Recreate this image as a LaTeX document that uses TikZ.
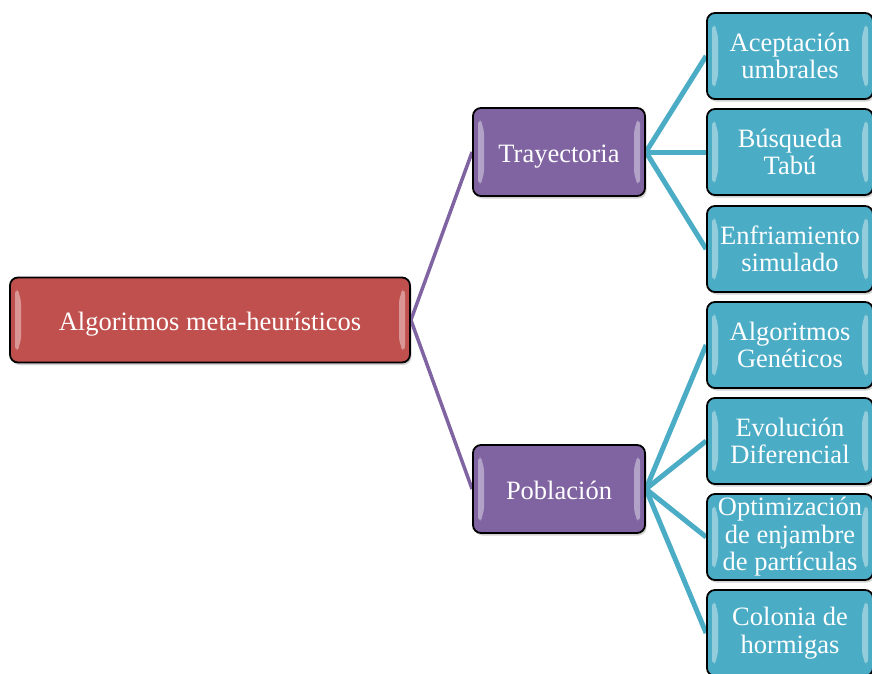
\documentclass[tikz,border=0pt]{standalone}
\usepackage{fontspec}
\setmainfont{Liberation Serif}
\usetikzlibrary{shadows}
\pgfdeclarelayer{background}
\pgfsetlayers{background,main}
\definecolor{rootred}{HTML}{C0504D}
\definecolor{midpurple}{HTML}{8064A2}
\definecolor{leafteal}{HTML}{4BACC6}
\tikzset{
  box/.style={draw=black, line width=1.8pt, rounded corners=8pt, inner sep=0pt,
    align=center, text=white, font=\fontsize{26.5}{27.5}\selectfont,
    drop shadow={shadow xshift=1.5pt, shadow yshift=-2.5pt, opacity=0.35},
    path picture={
      \fill[white, opacity=0.4]
        ([xshift=5pt,yshift=-9pt]path picture bounding box.north west) --
        ([xshift=11pt,yshift=-18pt]path picture bounding box.north west) --
        ([xshift=11pt,yshift=18pt]path picture bounding box.south west) --
        ([xshift=5pt,yshift=9pt]path picture bounding box.south west) -- cycle;
      \fill[white, opacity=0.4]
        ([xshift=-5pt,yshift=-9pt]path picture bounding box.north east) --
        ([xshift=-11pt,yshift=-18pt]path picture bounding box.north east) --
        ([xshift=-11pt,yshift=18pt]path picture bounding box.south east) --
        ([xshift=-5pt,yshift=9pt]path picture bounding box.south east) -- cycle;
    }},
  oneline/.style={text height=21pt, text depth=0pt},
  rootbox/.style={box, oneline, fill=rootred, minimum width=400pt, minimum height=85pt},
  midbox/.style={box, oneline, fill=midpurple, minimum width=172pt, minimum height=88pt},
  leafbox/.style={box, fill=leafteal, minimum width=166pt, minimum height=86pt},
  purpleline/.style={draw=midpurple, line width=3.5pt},
  tealline/.style={draw=leafteal, line width=5pt},
}
\begin{document}
\begin{tikzpicture}[x=1pt, y=1pt]
  \useasboundingbox (0,0) rectangle (872,-673);
  \clip (0,0) rectangle (872,-673);

  % hierarchy nodes
  \node[rootbox] (root) at (210,-320) {Algoritmos meta-heurísticos};
  \node[midbox] (tray) at (559,-152) {Trayectoria};
  \node[midbox] (pob) at (559,-489) {Población};

  \node[leafbox] (l1) at (790,-56)  {Aceptación\\umbrales};
  \node[leafbox] (l2) at (790,-152) {Búsqueda\\Tabú};
  \node[leafbox] (l3) at (790,-249) {Enfriamiento\\simulado};
  \node[leafbox] (l4) at (790,-345) {Algoritmos\\Genéticos};
  \node[leafbox] (l5) at (790,-441) {Evolución\\Diferencial};
  \node[leafbox] (l6) at (790,-537) {Optimización\\de enjambre\\de partículas};
  \node[leafbox] (l7) at (790,-633) {Colonia de\\hormigas};

  % white page and connectors behind the boxes
  \begin{pgfonlayer}{background}
    \fill[white] (0,0) rectangle (872,-673);
    \draw[purpleline] (root.east) -- (tray.west);
    \draw[purpleline] (root.east) -- (pob.west);
    \foreach \leaf in {l1,l2,l3} \draw[tealline] (tray.east) -- (\leaf.west);
    \foreach \leaf in {l4,l5,l6,l7} \draw[tealline] (pob.east) -- (\leaf.west);
  \end{pgfonlayer}
\end{tikzpicture}
\end{document}
